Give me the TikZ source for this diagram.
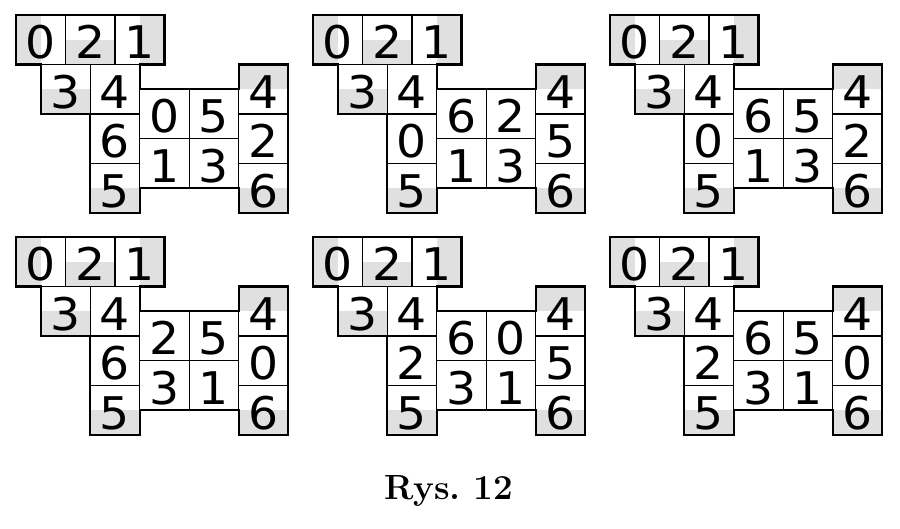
\documentclass[tikz,border=0pt]{standalone}
\usepackage{fontspec}
\newfontfamily\digitfont[FakeStretch=1.05]{DejaVu Sans}
\usetikzlibrary{positioning}

\tikzset{
  cell/.style={draw, line width=1.2pt, minimum size=49.5pt, inner sep=0pt, outer sep=0pt,
    font=\digitfont\fontsize{45}{45}\selectfont, text height=38pt, text depth=0pt},
  halfgray/.style={fill=black!12},
  rim/.style={line width=2.3pt, line join=miter},
}

% one panel: prefix, x, y, column digit, four middle digits, right digit
\newcommand{\tiles}[9]{%
  \begin{scope}[shift={(#2pt,-#3pt)}, x=49.5pt, y=-49.5pt]
    % gray halves
    \fill[halfgray] (0,0) rectangle (.5,1);
    \fill[halfgray] (1,.5) rectangle (2,1);
    \fill[halfgray] (2.5,0) rectangle (3,1);
    \fill[halfgray] (.5,1.5) rectangle (1.5,2);
    \fill[halfgray] (1.5,3.5) rectangle (2.5,4);
    \fill[halfgray] (4.5,1) rectangle (5.5,1.5);
    \fill[halfgray] (4.5,3.5) rectangle (5.5,4);

    % top row
    \node[cell] (#1-a) at (.5,.5) {0};
    \node[cell] (#1-b) at (1.5,.5) {2};
    \node[cell] (#1-c) at (2.5,.5) {1};
    \node[cell] (#1-d) at (1,1.5) {3};
    \node[cell] (#1-e) at (2,1.5) {4};

    % column
    \node[cell] (#1-f) at (2,2.5) {#4};
    \node[cell] (#1-g) at (2,3.5) {5};

    % middle square
    \node[cell] (#1-h) at (3,2) {#5};
    \node[cell] (#1-i) at (4,2) {#6};
    \node[cell] (#1-j) at (3,3) {#7};
    \node[cell] (#1-k) at (4,3) {#8};

    % right column
    \node[cell] (#1-l) at (5,1.5) {4};
    \node[cell] (#1-m) at (5,2.5) {#9};
    \node[cell] (#1-n) at (5,3.5) {6};

    \draw[rim] (0,0) -- (3,0) -- (3,1) -- (2.5,1) -- (2.5,1.5) -- (4.5,1.5) -- (4.5,1)
      -- (5.5,1) -- (5.5,4) -- (4.5,4) -- (4.5,3.5) -- (2.5,3.5) -- (2.5,4) -- (1.5,4)
      -- (1.5,2) -- (.5,2) -- (.5,1) -- (0,1) -- cycle;
  \end{scope}}

\begin{document}
\begin{tikzpicture}[x=1pt, y=-1pt]
  \useasboundingbox (0,0) rectangle (900,529);

  \tiles{p}{16}{15}{6}{0}{5}{1}{3}{2}
  \tiles{q}{313}{15}{0}{6}{2}{1}{3}{5}
  \tiles{r}{610}{15}{0}{6}{5}{1}{3}{2}
  \tiles{s}{16}{237}{6}{2}{5}{3}{1}{0}
  \tiles{t}{313}{237}{2}{6}{0}{3}{1}{5}
  \tiles{u}{610}{237}{2}{6}{5}{3}{1}{0}

  \node[font=\bfseries\fontsize{35}{35}\selectfont, anchor=base] (caption) at (449,499) {Rys.\ 12};
\end{tikzpicture}
\end{document}
